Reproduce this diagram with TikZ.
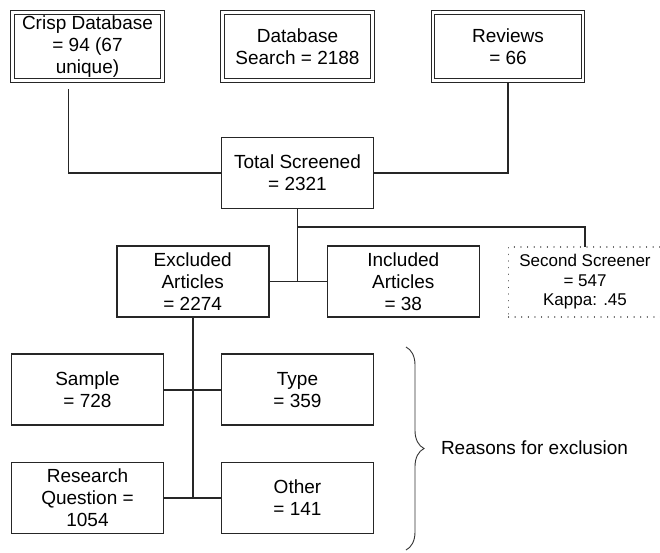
\documentclass[tikz,border=0pt]{standalone}
\usepackage{fontspec}
\setmainfont{Liberation Sans}
\usetikzlibrary{decorations.pathreplacing}

\begin{document}
\begin{tikzpicture}[x=1pt,y=-1pt,every node/.style={align=center, inner sep=0pt, outer sep=0pt, font=\fontsize{19}{22}\selectfont},
  sbox/.style={draw=black!85, line width=1.6pt, minimum width=152pt, minimum height=71pt},
  dbox/.style={draw=black!85, double, line width=1.1pt, double distance=2.3pt, outer sep=2.25pt, minimum width=150pt, minimum height=68pt},
  dotbox/.style={draw=black!70, line width=1.3pt, line cap=round, dash pattern=on 0.01pt off 6.6pt, minimum width=153pt, minimum height=70pt, font=\fontsize{17}{19.5}\selectfont},
  link/.style={draw=black!85, line width=1.6pt}]

\useasboundingbox (0,0) rectangle (660,552);

\node[dbox] (crisp) at (87.5,46.5) {Crisp Database\\= 94 (67\\unique)};
\node[dbox] (search) at (297.5,46.5) {Database\\Search = 2188};
\node[dbox] (reviews) at (508,46.5) {Reviews\\= 66};
\node[sbox] (total) at (297.5,173) {Total Screened\\= 2321};
\node[sbox] (excluded) at (192.7,281.5) {Excluded\\Articles\\= 2274};
\node[sbox] (included) at (403.3,281.5) {Included\\Articles\\= 38};
\node[dotbox] (second) at (585,282) {Second Screener\\= 547\\Kappa: .45};
\node[sbox] (sample) at (87.5,389.7) {Sample\\= 728};
\node[sbox] (type) at (297.5,389.7) {Type\\= 359};
\node[sbox] (research) at (87.5,498) {Research\\Question =\\1054};
\node[sbox] (other) at (297.5,498) {Other\\= 141};

\coordinate (crispfoot) at (68.3,89.3);
\coordinate (split) at (297.5,226.7);
\draw[link] (crispfoot) |- (total.west);
\draw[link] (reviews.south) |- (total.east);
\draw[link] (total.south) -- (total.south |- excluded.east);
\draw[link] (excluded.east) -- (included.west);
\draw[link] (split) -| (second.north);
\draw[link] (excluded.south) -- (excluded.south |- research.east);
\draw[link] (sample.east) -- (type.west);
\draw[link] (research.east) -- (other.west);

\draw[black!80, line width=0.9pt, decorate, decoration={brace, amplitude=18pt}] (406,347) -- (406,550);
\node[anchor=west] (reasons) at (441,448) {Reasons for exclusion};
\end{tikzpicture}
\end{document}
